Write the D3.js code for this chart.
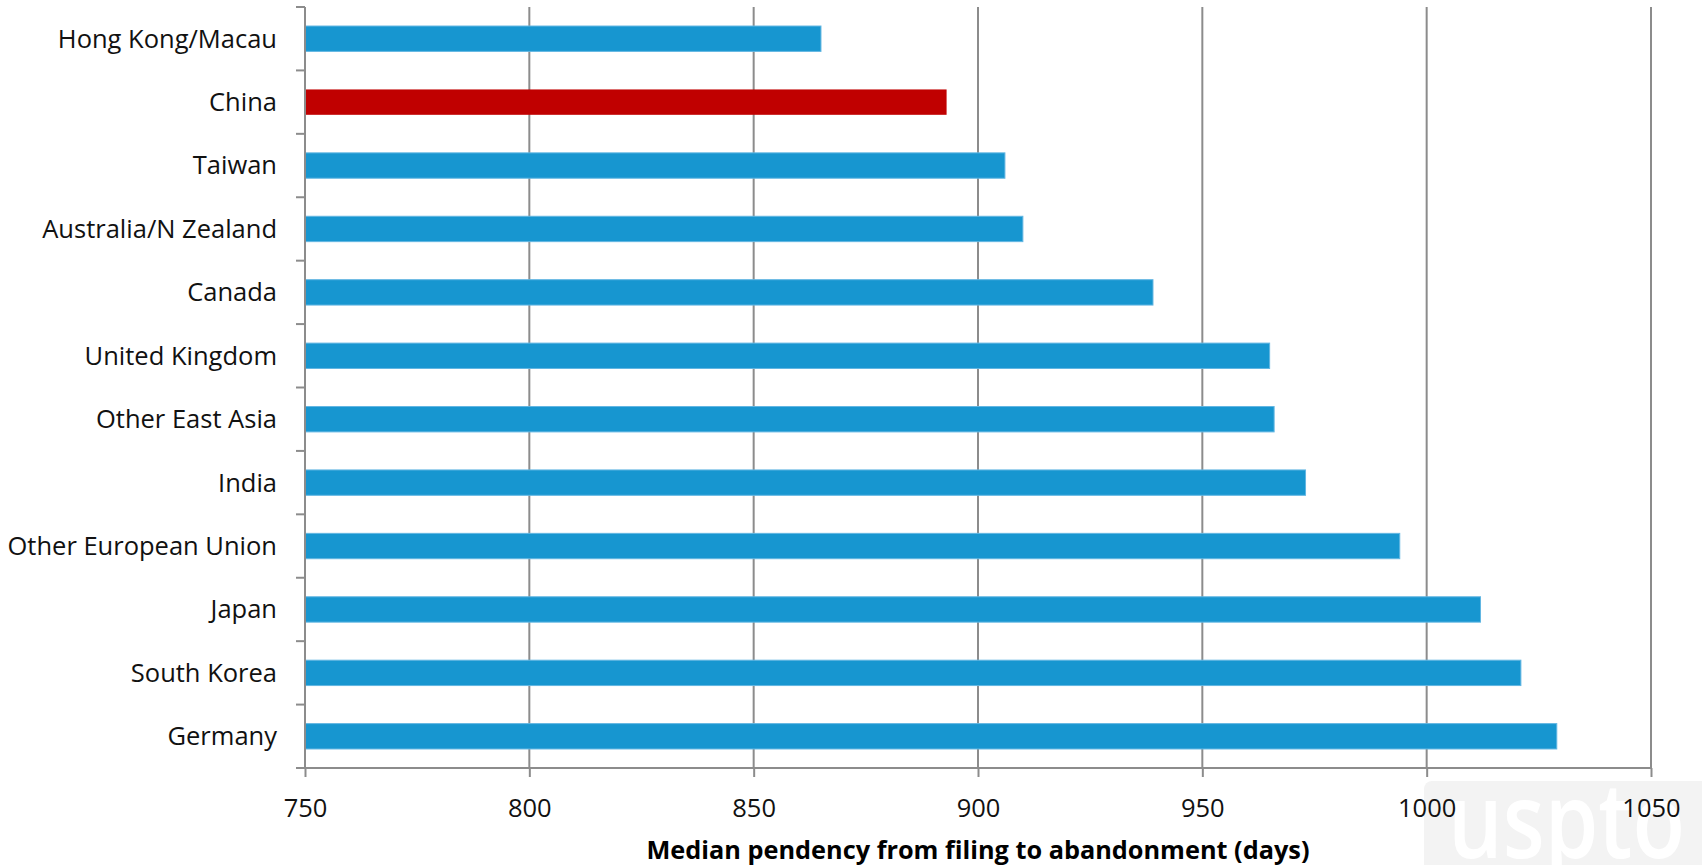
<!DOCTYPE html>
<html>
<head>
<meta charset="utf-8">
<script src="https://cdn.jsdelivr.net/npm/d3@7"></script>
<style>
  html, body { margin: 0; padding: 0; background: #fff; }
  svg { display: block; }
</style>
</head>
<body>
<svg id="chart" width="1702" height="865"></svg>
<script>
const categories = ["Hong Kong/Macau", "China", "Taiwan", "Australia/N Zealand", "Canada",
  "United Kingdom", "Other East Asia", "India", "Other European Union", "Japan", "South Korea", "Germany"];
const values = [865, 893, 906, 910, 939, 965, 966, 973, 994, 1012, 1021, 1029];
const highlighted = ["China"];
const xTicks = [750, 800, 850, 900, 950, 1000, 1050];
const xTitle = "Median pendency from filing to abandonment (days)";
const watermark = "uspto";

const svg = d3.select("#chart");
const margin = { left: 305, right: 51, top: 7, bottom: 97 };
const W = 1702, H = 865;
const fontFam = "'Open Sans', 'Noto Sans', sans-serif";

const x = d3.scaleLinear().domain([750, 1050]).range([margin.left, W - margin.right]);
const y = d3.scaleBand().domain(categories).range([margin.top, H - margin.bottom]).paddingInner(0.6).paddingOuter(0.3);
const yb = d3.scaleBand().domain(categories).range([margin.top, H - margin.bottom]);

// watermark
const wm = svg.append("g");
wm.append("rect").attr("x", 1424).attr("y", 781).attr("width", 300).attr("height", 120)
  .attr("rx", 8).attr("fill", "#f3f3f3");
wm.append("text").attr("x", 1448).attr("y", 858)
  .attr("font-family", fontFam).attr("font-size", 105).attr("font-weight", 600)
  .attr("textLength", 237).attr("lengthAdjust", "spacingAndGlyphs")
  .attr("fill", "#ffffff").text(watermark);

// gridlines
svg.append("g").selectAll("line").data(xTicks.slice(1)).join("line")
  .attr("x1", d => x(d)).attr("x2", d => x(d))
  .attr("y1", margin.top).attr("y2", H - margin.bottom)
  .attr("stroke", "#8c8c8c").attr("stroke-width", 2);

// bars
svg.append("g").selectAll("rect").data(categories).join("rect")
  .attr("x", x(750))
  .attr("y", d => y(d))
  .attr("width", (d, i) => x(values[i]) - x(750))
  .attr("height", y.bandwidth())
  .attr("fill", d => highlighted.includes(d) ? "#c00000" : "#1796d0")
  .attr("stroke", d => highlighted.includes(d) ? "none" : "#62b6e2")
  .attr("stroke-width", 1);

// y axis
const yg = svg.append("g").attr("transform", `translate(${margin.left},0)`);
yg.append("line").attr("x1", 0).attr("x2", 0).attr("y1", margin.top).attr("y2", H - margin.bottom)
  .attr("stroke", "#8c8c8c").attr("stroke-width", 2);
yg.selectAll("line.cat").data(categories.concat(["__end"])).join("line").attr("class", "cat")
  .attr("x1", -9).attr("x2", 0)
  .attr("y1", (d, i) => i < categories.length ? yb(d) : H - margin.bottom)
  .attr("y2", (d, i) => i < categories.length ? yb(d) : H - margin.bottom)
  .attr("stroke", "#8c8c8c").attr("stroke-width", 2);
yg.selectAll("text.lab").data(categories).join("text").attr("class", "lab")
  .attr("x", -28).attr("y", d => yb(d) + yb.bandwidth() / 2)
  .attr("dy", "0.35em").attr("text-anchor", "end")
  .attr("font-family", fontFam).attr("font-size", 25.5).attr("fill", "#111")
  .text(d => d);

// x axis
const xAxis = d3.axisBottom(x).tickValues(xTicks).tickSize(9).tickPadding(22).tickFormat(d3.format("d"));
const xg = svg.append("g").attr("transform", `translate(0,${H - margin.bottom})`).call(xAxis);
xg.select(".domain").attr("stroke", "#8c8c8c").attr("stroke-width", 2)
  .attr("d", `M${margin.left - 9},0H${W - margin.right}`);
xg.selectAll(".tick line").attr("stroke", "#8c8c8c").attr("stroke-width", 2);
xg.selectAll(".tick text").attr("font-family", fontFam).attr("font-size", 25.5).attr("fill", "#111");

// title
svg.append("text").attr("x", (x(750) + x(1050)) / 2).attr("y", 859)
  .attr("text-anchor", "middle").attr("font-family", fontFam).attr("font-weight", 700)
  .attr("font-size", 25.3).attr("fill", "#000").text(xTitle);
</script>
</body>
</html>
